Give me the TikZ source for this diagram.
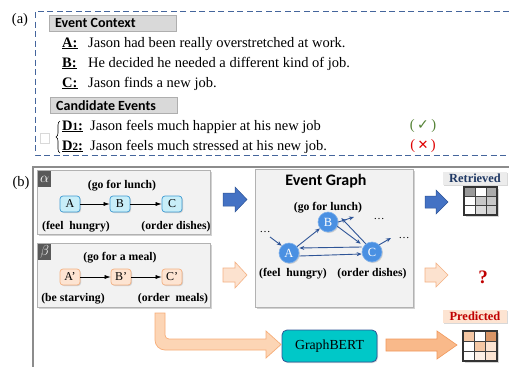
\documentclass[tikz,border=0pt]{standalone}
\usepackage{fontspec}
\setmainfont{Liberation Serif}
\newfontfamily\hdrfont{Carlito}
\newfontfamily\symfont{DejaVu Sans}
\usetikzlibrary{shadows,arrows.meta,decorations.pathreplacing}
\definecolor{dashblue}{HTML}{44659C}
\definecolor{hdrgray}{HTML}{D9D9D9}
\definecolor{okgreen}{HTML}{548235}
\definecolor{badred}{HTML}{E00000}
\definecolor{framegray}{HTML}{8C8C8C}
\definecolor{panelfill}{HTML}{F2F2F2}
\definecolor{tagfill}{HTML}{595959}
\definecolor{cyanfill}{HTML}{C8EEF8}
\definecolor{cyanedge}{HTML}{3E9BD3}
\definecolor{peachfill}{HTML}{FDE4D2}
\definecolor{peachedge}{HTML}{F4B183}
\definecolor{blueA}{HTML}{4472C4}
\definecolor{blueAd}{HTML}{2F5597}
\definecolor{nodeblue}{HTML}{4A90E2}
\definecolor{edgeblue}{HTML}{2F5597}
\definecolor{lpeach}{HTML}{FCE2CF}
\definecolor{lpeachd}{HTML}{F4B183}
\definecolor{orfill}{HTML}{F9B98A}
\definecolor{ordark}{HTML}{ED7D31}
\definecolor{orlight}{HTML}{FCD5B5}
\definecolor{tealbox}{HTML}{00C8C8}
\definecolor{navy}{HTML}{1F3864}
\definecolor{darkred}{HTML}{C00000}
\definecolor{pc1}{HTML}{F4C7A4}
\definecolor{pc2}{HTML}{D99566}
\definecolor{pc3}{HTML}{FBE3D1}
\definecolor{pc4}{HTML}{FDF0E6}
\begin{document}
\begin{tikzpicture}[x=1pt,y=-1pt,
  txt/.style={font=\fontsize{14.5}{16}\selectfont, inner sep=0pt},
  hdrbox/.style={fill=hdrgray, draw=hdrgray!80!black, line width=0.3pt, minimum width=127, minimum height=16, inner sep=0pt, anchor=north west},
  hdrtxt/.style={font=\hdrfont\bfseries\fontsize{14}{15}\selectfont, inner sep=0pt, anchor=west},
  panel/.style={draw=gray!60, fill=panelfill, line width=0.6pt, inner sep=0pt, anchor=north west,
     drop shadow={opacity=0.35, shadow xshift=1.5pt, shadow yshift=-1.5pt}},
  tag/.style={fill=tagfill, text=white, minimum width=13, minimum height=16, inner sep=0pt, anchor=north west, font=\fontsize{15}{15}\selectfont},
  lbl/.style={font=\bfseries\fontsize{11.7}{12}\selectfont, inner sep=0pt},
  evA/.style={draw=cyanedge, fill=cyanfill, rounded corners=3pt, minimum width=20, minimum height=16, inner sep=0pt, font=\fontsize{12}{12}\selectfont, line width=0.7pt,
     drop shadow={opacity=0.3, shadow xshift=1pt, shadow yshift=-1pt}},
  evB/.style={evA, draw=peachedge, fill=peachfill},
  seq/.style={-{Latex[length=6pt,width=4pt]}, line width=0.6pt},
  gnode/.style={circle, fill=nodeblue, draw=nodeblue!70!white, line width=0.6pt, minimum size=20, inner sep=0pt, text=white, font=\fontsize{12.5}{12}\selectfont,
     drop shadow={opacity=0.3, shadow xshift=1pt, shadow yshift=-1pt}},
  gedge/.style={-{Stealth[length=5pt,width=4pt]}, edgeblue, line width=0.9pt},
  dots/.style={font=\fontsize{11}{11}\selectfont, inner sep=0pt},
  tagbox/.style={minimum width=64, minimum height=13, inner sep=0pt, font=\bfseries\fontsize{12.4}{12}\selectfont,
     drop shadow={opacity=0.3, shadow xshift=1pt, shadow yshift=-1pt}},
  gridcell/.style={draw=black!75, line width=0.8pt}
]
\useasboundingbox (0,0) rectangle (509,367);
\fill[white] (0,0) rectangle (509,367);

% ---------------- (a)
\node[txt] (la) at (20,20) {(a)};
\draw[dashblue, line width=1pt, dash pattern=on 6pt off 3.5pt] (509,11) -- (35,11) -- (35,155) -- (509,155);
\node[hdrbox] (ctx) at (49,15) {};
\node[hdrtxt] (ctxt) at ([xshift=6]ctx.west) {Event Context};
\node[txt, anchor=base west] (lA) at (62,47) {\underline{\textbf{A:}}};
\node[txt, anchor=base west] (tA) at (88,47) {Jason had been really overstretched at work.};
\node[txt, anchor=base west] (lB) at (62,67) {\underline{\textbf{B:}}};
\node[txt, anchor=base west] (tB) at (88,67) {He decided he needed a different kind of job.};
\node[txt, anchor=base west] (lC) at (62,87) {\underline{\textbf{C:}}};
\node[txt, anchor=base west] (tC) at (88,87) {Jason finds a new job.};
\node[hdrbox] (cand) at (50,97) {};
\node[hdrtxt] (candt) at ([xshift=6]cand.west) {Candidate Events};
\node[txt, anchor=base west] (lD1) at (62,130) {\underline{\textbf{D{\fontsize{11}{11}\selectfont 1}:}}};
\node[txt, anchor=base west] (tD1) at (90,130) {Jason feels much happier at his new job};
\node[txt, anchor=base west] (lD2) at (62,150) {\underline{\textbf{D{\fontsize{11}{11}\selectfont 2}:}}};
\node[txt, anchor=base west] (tD2) at (90,150) {Jason feels much stressed at his new job.};
\draw[line width=0.6pt, decorate, decoration={brace, amplitude=4pt}] (60,153) -- (60,121);
\draw[gray!30, line width=0.5pt] (40,133) rectangle (49,143);
\node[txt, text=okgreen] (ok) at (423,126) {(\,{\symfont\fontsize{14}{14}\selectfont ✓}\,)};
\node[txt, text=badred] (bad) at (423,146) {(\,{\symfont\fontsize{13}{13}\selectfont ✕}\,)};

% ---------------- (b)
\node[txt] (lb) at (21,183) {(b)};
\draw[framegray, line width=1.5pt] (33,367) -- (33,167) -- (509,167);

% alpha panel
\node[panel, minimum width=173, minimum height=64] (alpha) at (37,170) {};
\node[tag] (ta) at (38,171) {$\alpha$};
\node[lbl] (gl) at (122,186) {(go for lunch)};
\node[evA] (a1) at (70,204) {A};
\node[evA] (b1) at (120,204) {B};
\node[evA] (c1) at (172,204) {C};
\draw[seq] (a1) -- (b1);
\draw[seq] (b1) -- (c1);
\node[lbl] (fh) at (76,227) {(feel\ \ hungry)};
\node[lbl] (od) at (176,227) {(order dishes)};

% beta panel
\node[panel, minimum width=173, minimum height=64] (beta) at (37,243) {};
\node[tag] (tb) at (38,244) {$\beta$};
\node[lbl] (gm) at (120,258) {(go for a meal)};
\node[evB] (a2) at (70,277) {A’};
\node[evB] (b2) at (121,277) {B’};
\node[evB] (c2) at (172,277) {C’};
\draw[seq] (a2) -- (b2);
\draw[seq] (b2) -- (c2);
\node[lbl] (bs) at (73,299) {(be starving)};
\node[lbl] (om) at (173,299) {(order\ \ meals)};

% block arrows middle
\filldraw[fill=blueA, draw=blueAd, line width=0.5pt] (223,193) -- (235,193) -- (235,187) -- (247,199.5) -- (235,212) -- (235,206) -- (223,206) -- cycle;
\filldraw[fill=lpeach, draw=lpeachd, line width=0.6pt] (223,268) -- (235,268) -- (235,262) -- (247,275) -- (235,288) -- (235,282) -- (223,282) -- cycle;

% event graph panel
\node[panel, minimum width=158, minimum height=138] (eg) at (255,169) {};
\node[hdrtxt, anchor=center, font=\hdrfont\bfseries\fontsize{16}{16}\selectfont] (egt) at (326,181) {Event Graph};
\node[gnode] (gB) at (328,222) {B};
\node[gnode] (gA) at (289,253) {A};
\node[gnode] (gC) at (372,252) {C};
\node[lbl] (g1) at (328,208) {(go for lunch)};
\node[lbl] (g2) at (293,274) {(feel\ \ hungry)};
\node[lbl] (g3) at (372,274) {(order dishes)};
\draw[gedge] (gA) -- (gB);
\draw[gedge] ([shift={(2,-3)}]gB.south east) -- ([shift={(-4,-1)}]gC.north west);
\draw[gedge] ([shift={(1,-1)}]gC.north west) -- ([shift={(3,-4)}]gB.east);
\draw[gedge] ([yshift=-3]gA.east) -- ([yshift=-2]gC.west);
\draw[gedge] ([yshift=5]gC.west) -- ([yshift=5]gA.east);
\coordinate (bo) at (354,217);
\coordinate (co) at (391,238);
\coordinate (ai) at (270,237);
\draw[gedge] (gB.east) -- (bo);
\draw[gedge] (gC.north east) -- (co);
\draw[gedge] (ai) -- (gA.north west);
\node[dots] (d1) at (265,232) {\ldots};
\node[dots] (d2) at (379,219) {\ldots};
\node[dots] (d3) at (404,238) {\ldots};

% right column
\filldraw[fill=blueA, draw=blueAd, line width=0.5pt] (425,196) -- (436,196) -- (436,190) -- (448,202) -- (436,214) -- (436,208) -- (425,208) -- cycle;
\filldraw[fill=lpeach, draw=lpeachd, line width=0.6pt] (425,268) -- (436,268) -- (436,263) -- (448,275) -- (436,287) -- (436,282) -- (425,282) -- cycle;
\node[tagbox, fill=gray!15, text=navy] (ret) at (475,178) {Retrieved};
\node[tagbox, fill=peachfill, text=darkred] (pred) at (475,316) {Predicted};
\node[text=darkred, font=\bfseries\fontsize{19}{19}\selectfont, inner sep=0pt] (q) at (483,277) {?};

% retrieved grid
\fill[black!40, opacity=0.4] (466,189) rectangle (499,217);
\fill[white] (464,187) rectangle (497,215);
\fill[black!40] (464,187) rectangle (475,196.33);
\fill[black!33] (486,187) rectangle (497,196.33);
\fill[black!22] (475,196.33) rectangle (497,205.67);
\fill[black!14] (475,205.67) rectangle (486,215);
\fill[black!19] (486,205.67) rectangle (497,215);
\draw[gridcell] (475,187) -- (475,215) (486,187) -- (486,215) (464,196.33) -- (497,196.33) (464,205.67) -- (497,205.67);
\draw[black!80, line width=1.3pt] (464,187) rectangle (497,215);

% predicted grid
\fill[black!40, opacity=0.4] (465,333) rectangle (499,363);
\fill[white] (463,331) rectangle (497,361);
\fill[pc1] (463,331) rectangle (474.33,341);
\fill[pc2] (485.67,331) rectangle (497,341);
\fill[pc1] (474.33,341) rectangle (485.67,351);
\fill[pc3] (485.67,341) rectangle (497,351);
\fill[pc4] (474.33,351) rectangle (485.67,361);
\fill[pc3] (485.67,351) rectangle (497,361);
\draw[gridcell] (474.33,331) -- (474.33,361) (485.67,331) -- (485.67,361) (463,341) -- (497,341) (463,351) -- (497,351);
\draw[black!80, line width=1.3pt] (463,331) rectangle (497,361);

% GraphBERT
\node[draw=blueAd, fill=tealbox, rounded corners=5pt, line width=0.8pt, minimum width=95, minimum height=32, inner sep=0pt,
  font=\fontsize{13.8}{14}\selectfont, drop shadow={opacity=0.3, shadow xshift=1pt, shadow yshift=-1pt}] (gb) at (329.5,346) {GraphBERT};

% L-shaped arrow beta -> GraphBERT
\filldraw[fill=orlight, draw=orfill!80!ordark, line width=0.7pt]
  (155,313) -- (155,340) arc[start angle=180, end angle=90, radius=10] -- (266,350) -- (266,358) -- (281,344.5) -- (266,331) -- (266,339)
  -- (169,339) arc[start angle=90, end angle=180, radius=4] -- (165,313) -- cycle;

% arrow GraphBERT -> predicted
\filldraw[fill=orfill, draw=ordark!80, line width=0.6pt] (386,339) -- (437,339) -- (437,331) -- (457,345) -- (437,359) -- (437,351) -- (386,351) -- cycle;
\end{tikzpicture}
\end{document}
